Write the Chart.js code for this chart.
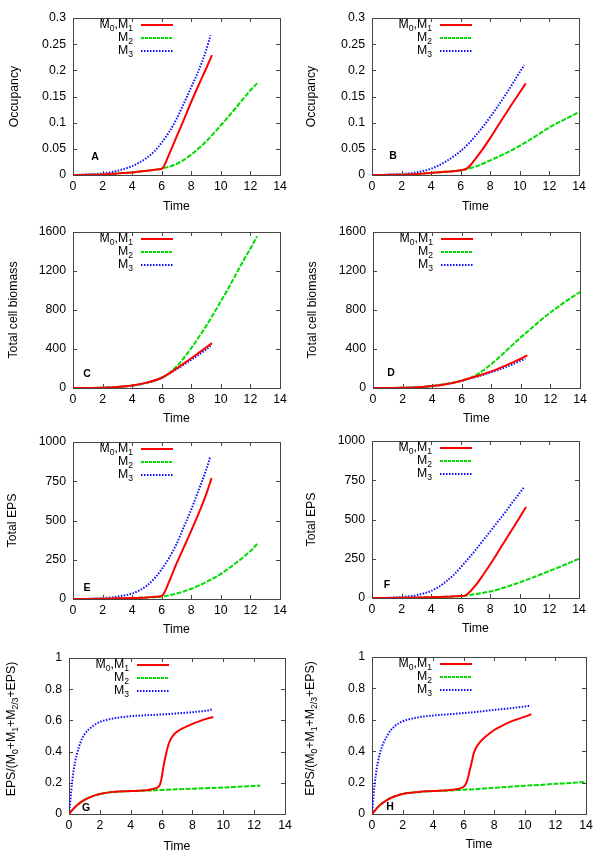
<!DOCTYPE html>
<html>
<head>
<meta charset="utf-8">
<script src="https://cdn.jsdelivr.net/npm/chart.js"></script>
<style>
  body { margin: 0; background: #fff; }
  #container { position: relative; width: 600px; height: 863px; }
  .panel { position: absolute; width: 300px; }
  .panel canvas { display: block; }
</style>
</head>
<body>
<div id="container"></div>
<script>
// ---- data (time, value) ----
// A: occupancy, left column
const A_t01 = [0, 1, 2, 3, 4, 5, 5.5, 6, 6.1, 6.3, 6.6, 7, 7.5, 8, 8.5, 9, 9.4];
const A_m01 = [0, 0.0003, 0.001, 0.003, 0.005, 0.008, 0.01, 0.012, 0.014, 0.026, 0.046, 0.073, 0.106, 0.14, 0.172, 0.203, 0.229];
const A_t2 = [0, 1, 2, 3, 4, 5, 6, 6.5, 7, 7.5, 8, 8.5, 9, 9.5, 10, 10.5, 11, 11.5, 12, 12.45];
const A_m2 = [0, 0.0003, 0.001, 0.003, 0.005, 0.008, 0.012, 0.016, 0.021, 0.029, 0.039, 0.051, 0.064, 0.079, 0.095, 0.111, 0.128, 0.145, 0.162, 0.175];
const A_t3 = [0, 1, 2, 3, 4, 4.5, 5, 5.5, 6, 6.5, 7, 7.5, 8, 8.5, 9, 9.3];
const A_m3 = [0, 0.001, 0.003, 0.008, 0.017, 0.024, 0.033, 0.045, 0.062, 0.082, 0.107, 0.137, 0.168, 0.2, 0.238, 0.267];

// B: occupancy, right column
const B_t01 = [0, 1, 2, 3, 4, 5, 6, 6.4, 6.7, 7, 7.5, 8, 8.5, 9, 9.5, 10, 10.4];
const B_m01 = [0, 0.0002, 0.0007, 0.002, 0.004, 0.006, 0.009, 0.012, 0.02, 0.031, 0.05, 0.071, 0.093, 0.115, 0.137, 0.158, 0.175];
const B_t2 = [0, 1, 2, 3, 4, 5, 6, 6.5, 7, 8, 9, 10, 11, 12, 13, 14];
const B_m2 = [0, 0.0002, 0.0007, 0.002, 0.004, 0.006, 0.009, 0.012, 0.016, 0.028, 0.041, 0.056, 0.073, 0.091, 0.106, 0.12];
const B_t3 = [0, 1, 2, 3, 4, 4.5, 5, 5.5, 6, 6.5, 7, 7.5, 8, 8.5, 9, 9.5, 10, 10.3];
const B_m3 = [0, 0.0005, 0.002, 0.005, 0.012, 0.018, 0.026, 0.035, 0.046, 0.059, 0.075, 0.092, 0.111, 0.131, 0.152, 0.174, 0.197, 0.21];

// C: total cell biomass, left
const C_t01 = [0, 1, 2, 3, 4, 5, 6, 6.5, 7, 7.5, 8, 8.5, 9, 9.4];
const C_m01 = [0, 0.5, 3, 10, 25, 55, 105, 150, 200, 252, 305, 360, 415, 460];
const C_t2 = [0, 1, 2, 3, 4, 5, 6, 6.5, 7, 7.5, 8, 8.5, 9, 9.5, 10, 10.5, 11, 11.5, 12, 12.45];
const C_m2 = [0, 0.5, 3, 10, 25, 55, 105, 152, 220, 310, 410, 520, 635, 760, 890, 1020, 1160, 1300, 1430, 1555];
const C_t3 = [0, 1, 2, 3, 4, 5, 6, 6.5, 7, 7.5, 8, 8.5, 9, 9.3];
const C_m3 = [0, 0.5, 3, 10, 25, 55, 103, 147, 193, 240, 290, 340, 395, 430];

// D: total cell biomass, right
const D_t01 = [0, 1, 2, 3, 4, 5, 6, 6.5, 7, 7.5, 8, 8.5, 9, 9.5, 10, 10.44];
const D_m01 = [0, 0.5, 2, 7, 20, 42, 75, 98, 120, 145, 170, 200, 232, 265, 300, 335];
const D_t2 = [0, 1, 2, 3, 4, 5, 6, 6.5, 7, 7.5, 8, 8.5, 9, 9.5, 10, 10.5, 11, 11.5, 12, 12.5, 13, 13.5, 14];
const D_m2 = [0, 0.5, 2, 7, 20, 42, 75, 98, 135, 185, 245, 310, 380, 450, 520, 585, 650, 715, 775, 830, 885, 935, 985];
const D_t3 = [0, 1, 2, 3, 4, 5, 6, 6.5, 7, 7.5, 8, 8.5, 9, 9.5, 10, 10.3];
const D_m3 = [0, 0.5, 2, 7, 20, 42, 74, 96, 115, 138, 162, 188, 216, 246, 280, 302];

// E: total EPS, left
const E_t01 = [0, 1, 2, 3, 4, 5, 5.5, 6, 6.2, 6.5, 7, 7.5, 8, 8.5, 9, 9.37];
const E_m01 = [0, 0.5, 2, 4, 6, 10, 14, 20, 45, 110, 225, 330, 435, 545, 665, 770];
const E_t2 = [0, 1, 2, 3, 4, 5, 6, 7, 8, 9, 10, 11, 12, 12.45];
const E_m2 = [0, 0.5, 2, 4, 6, 10, 15, 35, 65, 108, 160, 228, 305, 350];
const E_t3 = [0, 1, 2, 3, 4, 4.5, 5, 5.5, 6, 6.5, 7, 7.5, 8, 8.5, 9, 9.28];
const E_m3 = [0, 1, 5, 15, 35, 55, 85, 130, 190, 262, 350, 460, 570, 695, 820, 905];

// F: total EPS, right
const F_t01 = [0, 1, 2, 3, 4, 5, 6, 6.3, 6.5, 7, 7.5, 8, 8.5, 9, 9.5, 10, 10.42];
const F_m01 = [0, 0.5, 1.5, 3, 5, 8, 12, 15, 28, 80, 145, 215, 290, 365, 440, 515, 580];
const F_t2 = [0, 1, 2, 3, 4, 5, 6, 7, 8, 9, 10, 11, 12, 13, 14];
const F_m2 = [0, 0.5, 1.5, 3, 5, 8, 12, 25, 42, 68, 100, 135, 172, 210, 250];
const F_t3 = [0, 1, 2, 3, 4, 4.5, 5, 5.5, 6, 6.5, 7, 7.5, 8, 8.5, 9, 9.5, 10, 10.3];
const F_m3 = [0, 1, 6, 18, 45, 70, 105, 145, 195, 250, 305, 365, 425, 485, 545, 610, 670, 708];

// G: EPS fraction, left
const G_t01 = [0, 0.25, 0.5, 1, 1.5, 2, 2.5, 3, 4, 5, 5.5, 5.75, 5.9, 6, 6.05, 6.15, 6.3, 6.5, 6.8, 7.2, 7.6, 8, 8.6, 9, 9.35];
const G_m01 = [0, 0.03, 0.055, 0.09, 0.113, 0.128, 0.137, 0.142, 0.147, 0.152, 0.162, 0.172, 0.19, 0.23, 0.26, 0.32, 0.39, 0.46, 0.51, 0.54, 0.56, 0.578, 0.6, 0.613, 0.622];
const G_t2 = [0, 0.25, 0.5, 1, 1.5, 2, 2.5, 3, 4, 5, 6, 7, 8, 9, 10, 11, 12, 12.4];
const G_m2 = [0, 0.03, 0.055, 0.09, 0.113, 0.128, 0.137, 0.142, 0.147, 0.15, 0.154, 0.158, 0.162, 0.166, 0.17, 0.175, 0.18, 0.182];
const G_t3 = [0, 0.1, 0.2, 0.3, 0.5, 0.75, 1, 1.5, 2, 2.5, 3, 4, 5, 6, 7, 8, 9, 9.25];
const G_m3 = [0, 0.1, 0.2, 0.28, 0.38, 0.46, 0.51, 0.56, 0.59, 0.605, 0.615, 0.627, 0.633, 0.638, 0.645, 0.653, 0.664, 0.67];

// H: EPS fraction, right
const H_t01 = [0, 0.5, 1, 1.5, 2, 3, 4, 5, 5.5, 5.9, 6.1, 6.25, 6.35, 6.5, 6.65, 6.8, 7, 7.4, 8, 8.4, 9, 9.4, 10, 10.42];
const H_m01 = [0, 0.055, 0.09, 0.113, 0.128, 0.14, 0.146, 0.152, 0.158, 0.168, 0.185, 0.22, 0.26, 0.32, 0.385, 0.42, 0.45, 0.49, 0.535, 0.557, 0.585, 0.6, 0.62, 0.635];
const H_t2 = [0, 0.5, 1, 1.5, 2, 3, 4, 5, 6, 7, 8, 9, 10, 11, 12, 13, 14];
const H_m2 = [0, 0.055, 0.09, 0.113, 0.128, 0.14, 0.146, 0.15, 0.155, 0.16, 0.167, 0.173, 0.18, 0.185, 0.192, 0.198, 0.205];
const H_t3 = [0, 0.1, 0.25, 0.5, 1, 1.5, 2, 3, 4, 5, 6, 7, 8, 9, 10, 10.35];
const H_m3 = [0, 0.12, 0.25, 0.38, 0.5, 0.56, 0.59, 0.615, 0.627, 0.635, 0.643, 0.652, 0.663, 0.673, 0.685, 0.69];

// legend entries, as [text, isSubscript] pieces
const legendRows = [
  [["M", 0], ["0", 1], [",M", 0], ["1", 1]],
  [["M", 0], ["2", 1]],
  [["M", 0], ["3", 1]],
];
const fracTitle = [["EPS/(M", 0], ["0", 1], ["+M", 0], ["1", 1], ["+M", 0], ["2/3", 1], ["+EPS)", 0]];

const colors = ["#ff0000", "#00dc00", "#1010ff"];
const dashes = [[], [5, 1.5], [1.5, 1.5]];      // curves
const keyDashes = [[], [3, 1], [1.5, 1.5]];     // legend samples
const FONT = '"Liberation Sans", Arial, Helvetica, sans-serif';
const FS = 12.3;

// layout of each panel (pixels relative to the panel box)
const panels = [
  { letter: "A", left: 0, top: 0, h: 215, plot: [73, 18, 280, 175], yMax: 0.3, yStep: 0.05,
    yTitle: "Occupancy", yTitleX: 15, xTitleY: 207, mark: [22, 18],
    series: [[A_t01, A_m01], [A_t2, A_m2], [A_t3, A_m3]] },
  { letter: "B", left: 300, top: 0, h: 215, plot: [72, 18, 279, 175], yMax: 0.3, yStep: 0.05,
    yTitle: "Occupancy", yTitleX: 12, xTitleY: 207, mark: [21, 19],
    series: [[B_t01, B_m01], [B_t2, B_m2], [B_t3, B_m3]] },
  { letter: "C", left: 0, top: 215, h: 210, plot: [73, 17, 280, 173], yMax: 1600, yStep: 400,
    yTitle: "Total cell biomass", yTitleX: 14, xTitleY: 204, mark: [14, 14],
    series: [[C_t01, C_m01], [C_t2, C_m2], [C_t3, C_m3]] },
  { letter: "D", left: 300, top: 215, h: 210, plot: [73, 17, 280, 173], yMax: 1600, yStep: 400,
    yTitle: "Total cell biomass", yTitleX: 13, xTitleY: 204, mark: [18, 15],
    series: [[D_t01, D_m01], [D_t2, D_m2], [D_t3, D_m3]] },
  { letter: "E", left: 0, top: 425, h: 215, plot: [73, 17, 280, 174], yMax: 1000, yStep: 250,
    yTitle: "Total EPS", yTitleX: 13, xTitleY: 205, mark: [14, 11],
    series: [[E_t01, E_m01], [E_t2, E_m2], [E_t3, E_m3]] },
  { letter: "F", left: 300, top: 425, h: 215, plot: [72, 16, 279, 173], yMax: 1000, yStep: 250,
    yTitle: "Total EPS", yTitleX: 12, xTitleY: 204, mark: [15, 13],
    series: [[F_t01, F_m01], [F_t2, F_m2], [F_t3, F_m3]] },
  { letter: "G", left: 0, top: 640, h: 223, plot: [69, 18, 285, 174], yMax: 1, yStep: 0.2,
    yTitle: null, yTitleX: 12, xTitleY: 207, mark: [17, 6],
    series: [[G_t01, G_m01], [G_t2, G_m2], [G_t3, G_m3]] },
  { letter: "H", left: 300, top: 640, h: 223, plot: [72, 17, 286, 174], yMax: 1, yStep: 0.2,
    yTitle: null, yTitleX: 11, xTitleY: 205, mark: [18, 7],
    series: [[H_t01, H_m01], [H_t2, H_m2], [H_t3, H_m3]] },
];

// text with subscripts
function richWidth(ctx, parts, size) {
  let w = 0;
  parts.forEach(([s, sub]) => {
    ctx.font = (sub ? size * 0.7 : size) + "px " + FONT;
    w += ctx.measureText(s).width;
  });
  return w;
}
function drawRich(ctx, parts, x, y, size) {
  // x = left start, y = middle line of the main text
  ctx.textBaseline = "middle";
  ctx.textAlign = "left";
  parts.forEach(([s, sub]) => {
    ctx.font = (sub ? size * 0.7 : size) + "px " + FONT;
    ctx.fillText(s, x, sub ? y + size * 0.32 : y);
    x += ctx.measureText(s).width;
  });
}

// frame, inward ticks, legend, panel letter
const decor = {
  id: "decor",
  beforeDatasetsDraw(chart) {
    const { ctx, chartArea: a, scales } = chart;
    ctx.save();
    ctx.strokeStyle = "#444";
    ctx.lineWidth = 1;
    ctx.strokeRect(a.left + 0.5, a.top + 0.5, a.right - a.left, a.bottom - a.top);
    ctx.beginPath();
    scales.x.ticks.forEach((t) => {
      const x = Math.round(scales.x.getPixelForValue(t.value)) + 0.5;
      ctx.moveTo(x, a.bottom); ctx.lineTo(x, a.bottom - 4);
      ctx.moveTo(x, a.top); ctx.lineTo(x, a.top + 4);
    });
    scales.y.ticks.forEach((t) => {
      const y = Math.round(scales.y.getPixelForValue(t.value)) + 0.5;
      ctx.moveTo(a.left, y); ctx.lineTo(a.left + 4, y);
      ctx.moveTo(a.right, y); ctx.lineTo(a.right - 4, y);
    });
    ctx.stroke();
    ctx.restore();
  },
  afterDraw(chart) {
    const p = chart.options.plugins.decor;
    const { ctx, chartArea: a } = chart;
    ctx.save();
    // legend
    legendRows.forEach((row, i) => {
      const y = a.top + 7 + i * 13;
      const w = richWidth(ctx, row, FS);
      ctx.fillStyle = "#000";
      drawRich(ctx, row, a.left + 60 - w, y, FS);
      ctx.strokeStyle = colors[i];
      ctx.lineWidth = 2;
      ctx.setLineDash(keyDashes[i]);
      ctx.beginPath();
      ctx.moveTo(a.left + 68, y);
      ctx.lineTo(a.left + 100, y);
      ctx.stroke();
    });
    ctx.setLineDash([]);
    // panel letter
    ctx.font = "bold 10.5px " + FONT;
    ctx.textAlign = "center";
    ctx.textBaseline = "middle";
    ctx.fillStyle = "#000";
    ctx.fillText(p.letter, a.left + p.mark[0], a.bottom - p.mark[1]);
    // y title with subscripts for the EPS fraction panels
    if (p.rich) {
      const w = richWidth(ctx, fracTitle, FS);
      ctx.translate(p.titleX, (a.top + a.bottom) / 2 - 7);
      ctx.rotate(-Math.PI / 2);
      drawRich(ctx, fracTitle, -w / 2, 0, FS);
    }
    ctx.restore();
  },
};

const container = document.getElementById("container");
const halfLine = (FS * 1.2) / 2;

panels.forEach((p) => {
  const box = document.createElement("div");
  box.className = "panel";
  box.style.left = p.left + "px";
  box.style.top = p.top + "px";
  box.style.height = p.h + "px";
  const canvas = document.createElement("canvas");
  canvas.width = 300;
  canvas.height = p.h;
  box.appendChild(canvas);
  container.appendChild(box);

  const [pl, pt, pr, pb] = p.plot;
  const datasets = p.series.map(([t, v], i) => ({
    data: t.map((x, k) => ({ x: x, y: v[k] })),
    borderColor: colors[i],
    borderWidth: 2,
    borderDash: dashes[i],
    pointRadius: 0,
    cubicInterpolationMode: "monotone",
    fill: false,
  }));

  new Chart(canvas, {
    type: "line",
    data: { datasets: datasets },
    plugins: [decor],
    options: {
      responsive: false,
      animation: false,
      devicePixelRatio: 1,
      layout: { padding: { left: 0, top: pt, right: 300 - pr, bottom: 0 } },
      plugins: {
        legend: { display: false },
        tooltip: { enabled: false },
        decor: { letter: p.letter, mark: p.mark, rich: !p.yTitle, titleX: p.yTitleX },
      },
      scales: {
        x: {
          type: "linear",
          min: 0,
          max: 14,
          grid: { display: false, drawTicks: false },
          border: { display: false },
          ticks: { stepSize: 2, padding: 4, color: "#000", font: { family: FONT, size: FS } },
          title: {
            display: true,
            text: "Time",
            color: "#000",
            font: { family: FONT, size: FS },
            padding: { top: 0, bottom: p.h - p.xTitleY - halfLine },
          },
          afterFit: (s) => { s.height = p.h - pb; },
        },
        y: {
          min: 0,
          max: p.yMax,
          grid: { display: false, drawTicks: false },
          border: { display: false },
          ticks: {
            stepSize: p.yStep,
            padding: 7,
            color: "#000",
            font: { family: FONT, size: FS },
            callback: (v) => String(+v.toFixed(4)),
          },
          title: {
            display: !!p.yTitle,
            text: p.yTitle || "",
            color: "#000",
            font: { family: FONT, size: FS },
            padding: { top: p.yTitleX - halfLine, bottom: 0 },
          },
          afterFit: (s) => { s.width = pl; },
        },
      },
    },
  });
});
</script>
</body>
</html>
